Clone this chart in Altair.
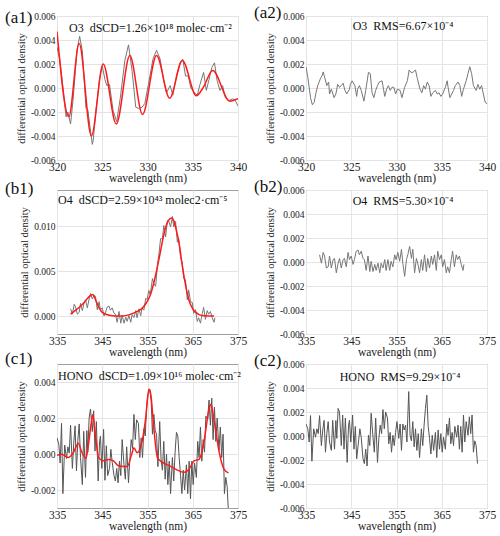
import altair as alt
import pandas as pd

FONT = "Liberation Serif"
UNIT = 1e-4  # values below are in units of 1e-4

# ---------- (a1) O3 fit and measured ----------
a1_fit = [(320.0, 47), (321.3, -24), (322.45, 37), (323.8, -40), (325.1, 20), (326.55, -30),
          (328.05, 27), (329.45, -22), (331.0, 27), (332.45, -8.5), (333.85, 23), (335.4, -6.5),
          (336.2, 1), (337.2, 14.5), (339.1, -11), (339.6, -10), (340.0, -9)]
a1_meas = [(320.0, 34), (320.3, 24), (320.8, -10), (321.0, -24), (321.2, -20), (321.5, -30), (321.8, -8),
           (322.2, 31), (322.5, 43), (322.8, 31), (323.2, -17), (323.4, -18), (323.9, -47), (324.0, -44),
           (324.3, -19), (324.7, 7), (325.0, 18.5), (325.3, 7), (325.5, 2), (325.8, 3), (326.2, -19),
           (326.6, -28), (327.0, -8), (327.5, 23), (327.9, 36), (328.3, 14), (328.7, -16), (329.0, -17),
           (329.4, -16), (329.7, -13), (330.1, 3), (330.6, 24), (331.0, 31.5), (331.4, 24), (331.8, 6),
           (332.1, -4), (332.5, 2), (332.8, -6), (333.2, 10), (333.6, 21), (333.9, 24), (334.2, 10),
           (334.5, 10), (334.8, 0), (335.2, -4), (335.5, -6), (335.8, 3), (336.2, 13), (336.5, -2),
           (336.8, 7), (337.1, 17), (337.4, 21), (337.7, 6), (338.0, -2), (338.3, 2), (338.6, -8),
           (339.0, -10.5), (339.4, -9), (339.7, -10.5), (340.0, -15)]

# ---------- (a2) O3 residual ----------
a2_res = [(320.0, 17.7), (320.2, 9), (320.5, -8), (320.7, -14), (320.9, -12), (321.1, -4), (321.3, 2),
          (321.6, 8), (321.8, 10.6), (321.9, 13.4), (322.2, 5), (322.3, 2), (322.5, 5), (322.6, -5),
          (322.8, -1), (323.1, -8), (323.3, -5), (323.5, 3), (323.7, 0.6), (323.9, 2), (324.1, 4),
          (324.3, -2), (324.5, -5), (324.8, -1), (324.9, 3), (325.1, 6), (325.4, 2), (325.6, -7),
          (325.7, -1), (325.9, 2), (326.1, -2), (326.4, -11), (326.6, -2), (326.9, 13), (327.1, 12),
          (327.3, -4), (327.5, -8), (327.7, -2), (327.9, 2), (328.1, 5), (328.4, 6), (328.5, 2),
          (328.7, -7), (328.9, -1), (329.1, 2), (329.3, -2), (329.5, 0.6), (329.7, 0.6), (329.9, -5),
          (330.1, -1), (330.4, -2), (330.6, -8), (330.9, 0.6), (331.2, 6), (331.4, 15), (331.6, 13),
          (331.8, 13), (332.1, 15), (332.3, 8), (332.6, -1), (332.8, -4), (333.0, 2), (333.2, -1),
          (333.4, 5), (333.6, 2), (333.8, -7), (334.0, -4), (334.3, -2), (334.5, -5), (334.7, -4),
          (334.9, -7), (335.1, -5), (335.4, 0.6), (335.6, 6), (335.7, 0.6), (335.9, -8), (336.1, -5),
          (336.3, -2), (336.5, 2), (336.8, 5), (337.0, 2), (337.2, -7), (337.4, -1), (337.7, 6),
          (337.9, 12), (338.1, 17.7), (338.3, 12), (338.5, 2), (338.8, -2), (339.0, 3), (339.2, -1),
          (339.4, 2), (339.6, -5), (339.8, -12), (340.0, -13)]

# ---------- (b1) O4 fit and measured ----------
b1_fit = [(338.0, 2), (339.0, 6), (340.0, 10), (341.0, 15), (342.0, 21), (342.9, 24), (343.6, 17),
          (344.3, 9), (345.0, 4), (346.5, 0.8), (348.0, 0), (349.5, 0), (351.0, 1.5), (352.5, 4.5),
          (353.8, 8.5), (354.8, 15), (355.6, 23), (356.3, 35), (357.0, 50), (357.8, 70), (358.5, 88),
          (359.1, 100), (359.6, 106), (360.3, 109), (360.8, 106), (361.3, 97), (362.0, 80),
          (362.8, 52), (363.5, 32), (364.2, 17), (365.0, 8), (365.7, 4), (366.4, 1.5), (367.5, 0.3),
          (369.7, 0)]
b1_meas = [(338.0, 8), (338.4, 2), (338.8, 13), (339.1, 10), (339.5, 2), (339.9, 4), (340.2, 14),
           (340.6, 6), (341.0, 15), (341.3, 18), (341.7, 9), (342.1, 19), (342.4, 25), (342.8, 19),
           (343.2, 23), (343.5, 22), (343.9, 7), (344.3, 16), (344.6, 7), (345.0, 9), (345.4, 0),
           (345.7, 3.5), (346.1, 10), (346.5, 11), (346.8, 6.5), (347.2, 9), (347.6, 3), (347.9, 2),
           (348.3, -7), (348.7, 5), (349.1, -8), (349.4, 0.6), (349.8, -8), (350.2, -1.3), (350.5, -6),
           (350.9, 0.6), (351.3, -7), (351.6, 1.6), (352.0, -1.7), (352.4, 6), (352.7, -2), (353.1, 8),
           (353.5, 0.3), (353.8, 9), (354.2, 6.5), (354.6, 19.5), (354.9, 18.5), (355.3, 28.5),
           (355.6, 23.6), (356.1, 41.6), (356.4, 36), (356.8, 33), (357.2, 57), (357.5, 68),
           (357.9, 86), (358.3, 86), (358.6, 100.6), (359.0, 88), (359.4, 106), (359.7, 105.5),
           (360.1, 99), (360.5, 110.5), (360.8, 99), (361.2, 105), (361.6, 82), (361.9, 86),
           (362.3, 65), (362.7, 59), (363.0, 42), (363.4, 40), (363.8, 18), (364.1, 29), (364.5, 16),
           (364.9, 15), (365.2, 3), (365.6, 7), (366.0, -6), (366.3, -2), (366.7, -8), (367.1, 2.7),
           (367.4, 9.5), (367.8, -3.7), (368.2, 6), (368.5, 2), (368.9, 5), (369.3, -2), (369.7, -7),
           (369.9, -2)]

# ---------- (b2) O4 residual ----------
b2_res = [(338.0, 6), (338.4, -1), (338.8, 8), (339.1, 5), (339.5, -5), (339.9, -4), (340.2, 5),
          (340.6, -5), (341.0, 2), (341.3, 3), (341.7, -9), (342.1, -1), (342.4, 3), (342.8, -5),
          (343.2, 2), (343.5, 3), (343.9, -4), (344.3, 8), (344.6, 2), (345.0, 5), (345.4, -2),
          (345.7, 2), (346.1, 9), (346.5, 10), (346.8, 6), (347.2, 9), (347.6, 3), (347.9, 2),
          (348.3, -7), (348.7, 5), (349.1, -8), (349.4, 0.6), (349.8, -8), (350.2, -2), (350.5, -7),
          (350.9, -1), (351.3, -9), (351.6, -1), (352.0, -5), (352.4, 2), (352.7, -7), (353.1, 2),
          (353.5, -7), (353.8, 0.6), (354.2, -4), (354.6, 6), (354.9, 2), (355.3, 8), (355.7, 0.6),
          (356.1, 10.6), (356.4, -1), (356.8, -12), (357.2, 2), (357.5, 6), (357.9, 13), (358.3, 3),
          (358.6, 10.6), (359.0, -9), (359.4, 3), (359.7, -1), (360.1, -9), (360.5, 2), (360.8, -7),
          (361.2, 6), (361.6, -8), (361.9, 3), (362.3, -5), (362.7, 5), (363.0, -2), (363.4, 6),
          (363.8, -7), (364.1, 9), (364.5, 2), (364.9, 6), (365.2, -4), (365.6, 2), (366.0, -9),
          (366.3, -4), (366.7, -9), (367.1, 2), (367.4, 9), (367.8, -4), (368.2, 6), (368.5, 2),
          (368.9, 5), (369.3, -2), (369.7, -7), (369.9, -2)]

# ---------- (c1) HONO fit and measured ----------
c1_fit = [(335.0, -0.7), (336.0, -0.2), (337.5, -2), (338.6, 0.7), (339.7, 6), (340.4, 1.6),
          (341.4, -2.4), (341.9, 4.4), (342.5, 16), (342.9, 22), (343.4, 12.6), (344.2, -2),
          (345.3, -3.8), (346.4, -3), (347.5, -3.8), (348.6, -6.5), (350.5, -7), (351.6, 0.7),
          (352.0, 3.5), (352.7, 0.7), (353.8, 7), (354.6, 20), (355.3, 36), (355.7, 33.5),
          (356.4, 14.4), (357.2, -2), (358.3, -4.7), (359.8, -6.5), (361.2, -8.4), (363.1, -10.2),
          (364.2, -8.4), (365.3, -3.8), (366.4, -3), (367.5, 7), (368.6, 25), (369.0, 27.5),
          (369.7, 19), (370.8, 1.6), (371.9, -8.4), (372.9, -10.5)]
c1_meas = [(335.0, 9), (335.4, 5.5), (335.7, -5), (336.0, 17), (336.3, -22), (336.7, 5), (337.1, -2.5),
           (337.4, 4), (337.7, 0.5), (338.0, 16), (338.4, -8), (338.7, 6), (339.0, 15.6), (339.3, -9.4),
           (339.6, 7.5), (339.9, 16.7), (340.2, -2), (340.6, -17), (340.9, 12.6), (341.3, -13),
           (341.6, 13), (341.8, 1), (342.1, 20), (342.4, 25), (342.8, 12.5), (343.1, 24), (343.4, 1.6),
           (343.7, 18), (344.1, -15), (344.4, 6.7), (344.6, 10), (344.9, -8), (345.3, 13.7),
           (345.6, -14.6), (345.9, 4.6), (346.2, -12), (346.6, -8), (346.9, 2.6), (347.2, -4.6),
           (347.6, -12), (347.9, -15), (348.2, -8), (348.5, -16), (348.8, -4), (349.1, -12),
           (349.4, 8), (349.8, -6), (350.1, -14), (350.4, 4), (350.8, -16), (351.1, -3), (351.4, 8),
           (351.7, 3), (352.0, 22), (352.3, 8), (352.6, 19), (353.0, 17), (353.3, -2), (353.6, 9),
           (353.9, -2), (354.2, 14), (354.5, 10), (354.8, 26), (355.1, 33), (355.5, 36), (355.8, 30),
           (356.1, 11), (356.4, 22), (356.7, 13), (357.0, 11), (357.3, -7), (357.7, 18), (358.0, -3),
           (358.3, -9), (358.6, 7), (358.9, -14), (359.2, 0), (359.5, -17), (359.8, -4), (360.1, -22),
           (360.5, -2), (360.8, -15), (361.1, 1), (361.4, 12), (361.7, 10), (362.0, -2), (362.3, -12),
           (362.6, -22), (362.9, -9), (363.2, -20), (363.6, -6), (363.9, -22), (364.2, -4),
           (364.5, -25), (364.8, -4), (365.1, -17), (365.4, -5), (365.8, -13), (366.1, 7), (366.4, -2),
           (366.7, 15), (367.0, -4), (367.3, 8), (367.6, 1), (367.9, 21), (368.3, 19), (368.6, 30),
           (368.9, 16), (369.2, 31), (369.5, 8), (369.8, 26), (370.1, 7), (370.4, 20), (370.8, 2),
           (371.1, 15), (371.4, -2), (371.7, 11), (372.0, -22), (372.3, -13), (372.6, -18),
           (372.9, -33), (373.0, -40)]

# ---------- (c2) HONO residual ----------
c2_res = [(335.0, 10), (335.4, 6), (335.7, -5), (336.0, 17), (336.3, -21), (336.7, 6), (337.1, -1),
          (337.4, 6), (337.7, 2), (338.0, 17), (338.4, -8), (338.7, 5), (339.0, 13), (339.3, -13.5),
          (339.6, 2), (339.9, 12), (340.2, -5), (340.6, -12), (340.9, 13), (341.3, -11), (341.6, 13),
          (341.8, -2), (342.1, 23), (342.4, 20), (342.8, -8), (343.1, 17.5), (343.4, -11), (343.7, 15),
          (344.1, -22), (344.4, 9), (344.6, 13), (344.9, -5), (345.3, 17.5), (345.6, -11), (345.9, 8),
          (346.2, -19), (346.6, -5), (346.9, 6), (347.2, -1), (347.6, -19), (347.9, -23), (348.2, -11),
          (348.5, -25), (348.8, 0.6), (349.1, -8), (349.4, 19), (349.8, -1), (350.1, -13.5),
          (350.4, 15), (350.8, -22), (351.1, -2), (351.4, 9), (351.7, 2), (352.0, 22), (352.3, 6),
          (352.6, 20), (353.0, 15), (353.3, -6.5), (353.6, 3), (353.9, -13.5), (354.2, 0.6),
          (354.5, -8), (354.8, 3), (355.1, 12), (355.5, -2), (355.8, 10), (356.1, -12), (356.4, 10),
          (356.7, 5), (357.0, 9), (357.3, -5), (357.7, 37), (358.0, 0.6), (358.3, -4), (358.6, 12),
          (358.9, -9), (359.2, 6), (359.5, -12), (359.8, 2), (360.1, -18), (360.5, 6), (360.8, -8),
          (361.1, 9), (361.4, 23), (361.7, 34), (362.0, 8), (362.3, -2), (362.6, -15), (362.9, 0.6),
          (363.2, -12), (363.6, 3), (363.9, -18), (364.2, 5), (364.5, -11), (364.8, 2), (365.1, -13.5),
          (365.4, -1), (365.8, -11), (366.1, 10), (366.4, 0.6), (366.7, 15), (367.0, -6.5), (367.3, 3),
          (367.6, -8), (367.9, 8), (368.3, -1), (368.6, 9), (368.9, -11), (369.2, 8), (369.5, -13.5),
          (369.8, 17.5), (370.1, -5), (370.4, 12), (370.8, 0.6), (371.1, 16), (371.4, 2), (371.7, 17.5),
          (372.0, -13.5), (372.3, -4), (372.6, -8), (372.9, -23)]

# ---------- axis ticks ----------
a_xticks = [320, 325, 330, 335, 340]
bc_xticks = [335, 345, 355, 365, 375]
res_yticks = [-0.006, -0.004, -0.002, 0.0, 0.002, 0.004, 0.006]
b1_yticks = [0.0, 0.005, 0.010]
c1_yticks = [-0.002, 0.0, 0.002, 0.004]

SP = "\u00a0\u00a0"
notes = {
    "a1": "O3" + SP + "dSCD=1.26×10¹⁸ molec·cm⁻²",
    "a2": "O3" + SP + "RMS=6.67×10⁻⁴",
    "b1": "O4" + SP + "dSCD=2.59×10⁴³ molec2·cm⁻⁵",
    "b2": "O4" + SP + "RMS=5.30×10⁻⁴",
    "c1": "HONO" + SP + "dSCD=1.09×10¹⁶ molec·cm⁻²",
    "c2": "HONO" + SP + "RMS=9.29×10⁻⁴",
}

YLAB = "datum.value < 0 ? '-' + format(-datum.value, '.3f') : format(datum.value, '.3f')"
GRAY = "#777777"
DARK = "#555555"
RED = "#ff1a1a"
TXT = "#222222"
W, H = 181, 144


def to_df(pairs):
    return pd.DataFrame({"x": [p[0] for p in pairs], "y": [p[1] * UNIT for p in pairs]})


def panel(lines, xdom, xticks, ydom, yticks, label, lab_y, note, nx, ny, nalign):
    xs = alt.Scale(domain=xdom, nice=False, zero=False)
    ys = alt.Scale(domain=ydom, nice=False, zero=False)
    xax = alt.Axis(values=xticks, format="d", title="wavelength (nm)", labelFlush=False,
                   labelOverlap=False, labelFont=FONT, titleFont=FONT, labelFontSize=11.5,
                   titleFontSize=11.5, labelPadding=1, titlePadding=0, labelColor=TXT,
                   titleColor=TXT, titleFontWeight="normal", grid=True, gridColor="#e4e4e4",
                   ticks=False, domain=False)
    yax = alt.Axis(values=yticks, title="differential optical density", labelExpr=YLAB,
                   labelOverlap=False, labelFont=FONT, titleFont=FONT, labelFontSize=9.5,
                   titleFontSize=10.5, labelPadding=2, titlePadding=4, labelColor=TXT,
                   titleColor=TXT, titleFontWeight="normal", grid=True, gridColor="#e4e4e4",
                   ticks=False, domain=False)
    layers = []
    for pairs, color, sw, interp in lines:
        layers.append(
            alt.Chart(to_df(pairs)).mark_line(color=color, strokeWidth=sw, clip=True,
                                              interpolate=interp).encode(
                x=alt.X("x:Q", scale=xs, axis=xax),
                y=alt.Y("y:Q", scale=ys, axis=yax),
            )
        )
    txt = alt.Chart(pd.DataFrame({"t": [note]})).mark_text(
        font=FONT, fontSize=12, align=nalign, baseline="middle", color="#111111"
    ).encode(text="t:N", x=alt.value(nx), y=alt.value(ny))
    lab = alt.Chart(pd.DataFrame({"t": [label]})).mark_text(
        font=FONT, fontSize=17, align="left", baseline="middle", color="#111111"
    ).encode(text="t:N", x=alt.value(-52), y=alt.value(lab_y))
    return alt.layer(*layers, txt, lab).properties(width=W, height=H)


pa1 = panel([(a1_meas, GRAY, 1, "linear"), (a1_fit, RED, 1.5, "monotone")],
            [320, 340], a_xticks, [-0.006, 0.006], res_yticks, "(a1)", 2, notes["a1"], 12, 12, "left")
pa2 = panel([(a2_res, GRAY, 1, "linear")],
            [320, 340], a_xticks, [-0.006, 0.006], res_yticks, "(a2)", -3, notes["a2"], 97, 10, "center")
pb1 = panel([(b1_meas, GRAY, 1, "linear"), (b1_fit, RED, 1.5, "monotone")],
            [335, 375], bc_xticks, [-0.002, 0.014], b1_yticks, "(b1)", -1, notes["b1"], 1, 10, "left")
pb2 = panel([(b2_res, GRAY, 1, "linear")],
            [335, 375], bc_xticks, [-0.006, 0.006], res_yticks, "(b2)", -3, notes["b2"], 97, 11, "center")
pc1 = panel([(c1_meas, DARK, 1, "linear"), (c1_fit, RED, 1.5, "monotone")],
            [335, 375], bc_xticks, [-0.003, 0.005], c1_yticks, "(c1)", -5, notes["c1"], 1, 12, "left")
pc2 = panel([(c2_res, DARK, 1, "linear")],
            [335, 375], bc_xticks, [-0.006, 0.006], res_yticks, "(c2)", -3, notes["c2"], 94, 13, "center")

chart = (
    alt.concat(pa1, pa2, pb1, pb2, pc1, pc2, columns=2, spacing={"row": 30, "column": 68},
               bounds="flush")
    .properties(padding={"left": 4, "top": 3, "right": 2, "bottom": 2})
    .configure_view(stroke="#a0a0a0", strokeWidth=1)
)

chart.save("out.html", embed_options={"renderer": "svg", "actions": False})
